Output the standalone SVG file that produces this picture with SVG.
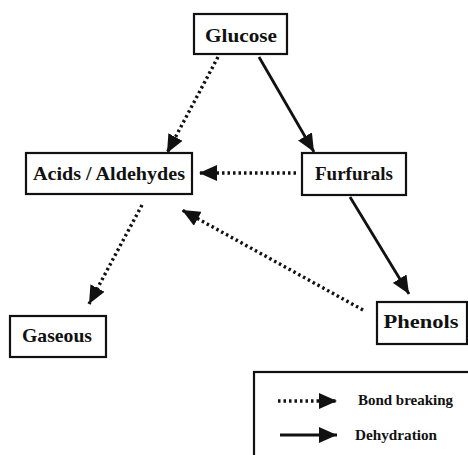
<svg xmlns="http://www.w3.org/2000/svg" width="468" height="455" viewBox="0 0 468 455">
<style>
.box{fill:#fff;stroke:#111;stroke-width:2.2}
.lbl{font-family:"Liberation Serif","Times New Roman",serif;font-weight:bold;font-size:19px;fill:#111;text-anchor:middle}
.leg{font-family:"Liberation Serif","Times New Roman",serif;font-weight:bold;font-size:14px;fill:#111}
.solid{stroke:#111;stroke-width:2.8;fill:none}
.dot{stroke:#111;stroke-width:3.4;fill:none;stroke-dasharray:2.5 3}
</style>
<defs>
<marker id="ah" markerUnits="userSpaceOnUse" markerWidth="20" markerHeight="16" refX="18" refY="8" orient="auto">
<path d="M0,0 L18,8 L0,16 z" fill="#111"/>
</marker>
</defs>
<rect width="468" height="455" fill="#fff"/>
<g id="connectors">
<line class="dot" x1="218" y1="57" x2="167" y2="153" marker-end="url(#ah)"/>
<line class="solid" x1="259" y1="57" x2="314" y2="152" marker-end="url(#ah)"/>
<line class="dot" x1="296" y1="173" x2="199" y2="173" marker-end="url(#ah)"/>
<line class="solid" x1="350" y1="197" x2="409" y2="294" marker-end="url(#ah)"/>
<line class="dot" x1="142" y1="205" x2="89" y2="304" marker-end="url(#ah)"/>
<line class="dot" x1="363" y1="310" x2="182" y2="210" marker-end="url(#ah)"/>
</g>
<g id="glucose">
<rect class="box" x="194" y="14" width="93" height="40"/>
<text class="lbl" x="241" y="42" textLength="72" lengthAdjust="spacingAndGlyphs">Glucose</text>
</g>
<g id="acids">
<rect class="box" x="26" y="153" width="166" height="41"/>
<text class="lbl" x="109" y="180" textLength="152" lengthAdjust="spacingAndGlyphs">Acids / Aldehydes</text>
</g>
<g id="furfurals">
<rect class="box" x="302" y="153" width="104" height="42"/>
<text class="lbl" x="354" y="180" textLength="78" lengthAdjust="spacingAndGlyphs">Furfurals</text>
</g>
<g id="gaseous">
<rect class="box" x="10" y="316" width="96" height="41"/>
<text class="lbl" x="57" y="342" textLength="70" lengthAdjust="spacingAndGlyphs">Gaseous</text>
</g>
<g id="phenols">
<rect class="box" x="377" y="302" width="90" height="42"/>
<text class="lbl" x="421" y="328" textLength="75" lengthAdjust="spacingAndGlyphs">Phenols</text>
</g>
<g id="legend">
<rect class="box" x="254" y="372" width="225" height="100"/>
<line class="dot" x1="278" y1="401" x2="337" y2="401" stroke-width="2" marker-end="url(#ah)"/>
<line class="solid" x1="280" y1="435" x2="337" y2="435" marker-end="url(#ah)"/>
<text class="leg" x="358" y="405" textLength="95" lengthAdjust="spacingAndGlyphs">Bond breaking</text>
<text class="leg" x="355" y="440" textLength="82" lengthAdjust="spacingAndGlyphs">Dehydration</text>
</g>
</svg>
